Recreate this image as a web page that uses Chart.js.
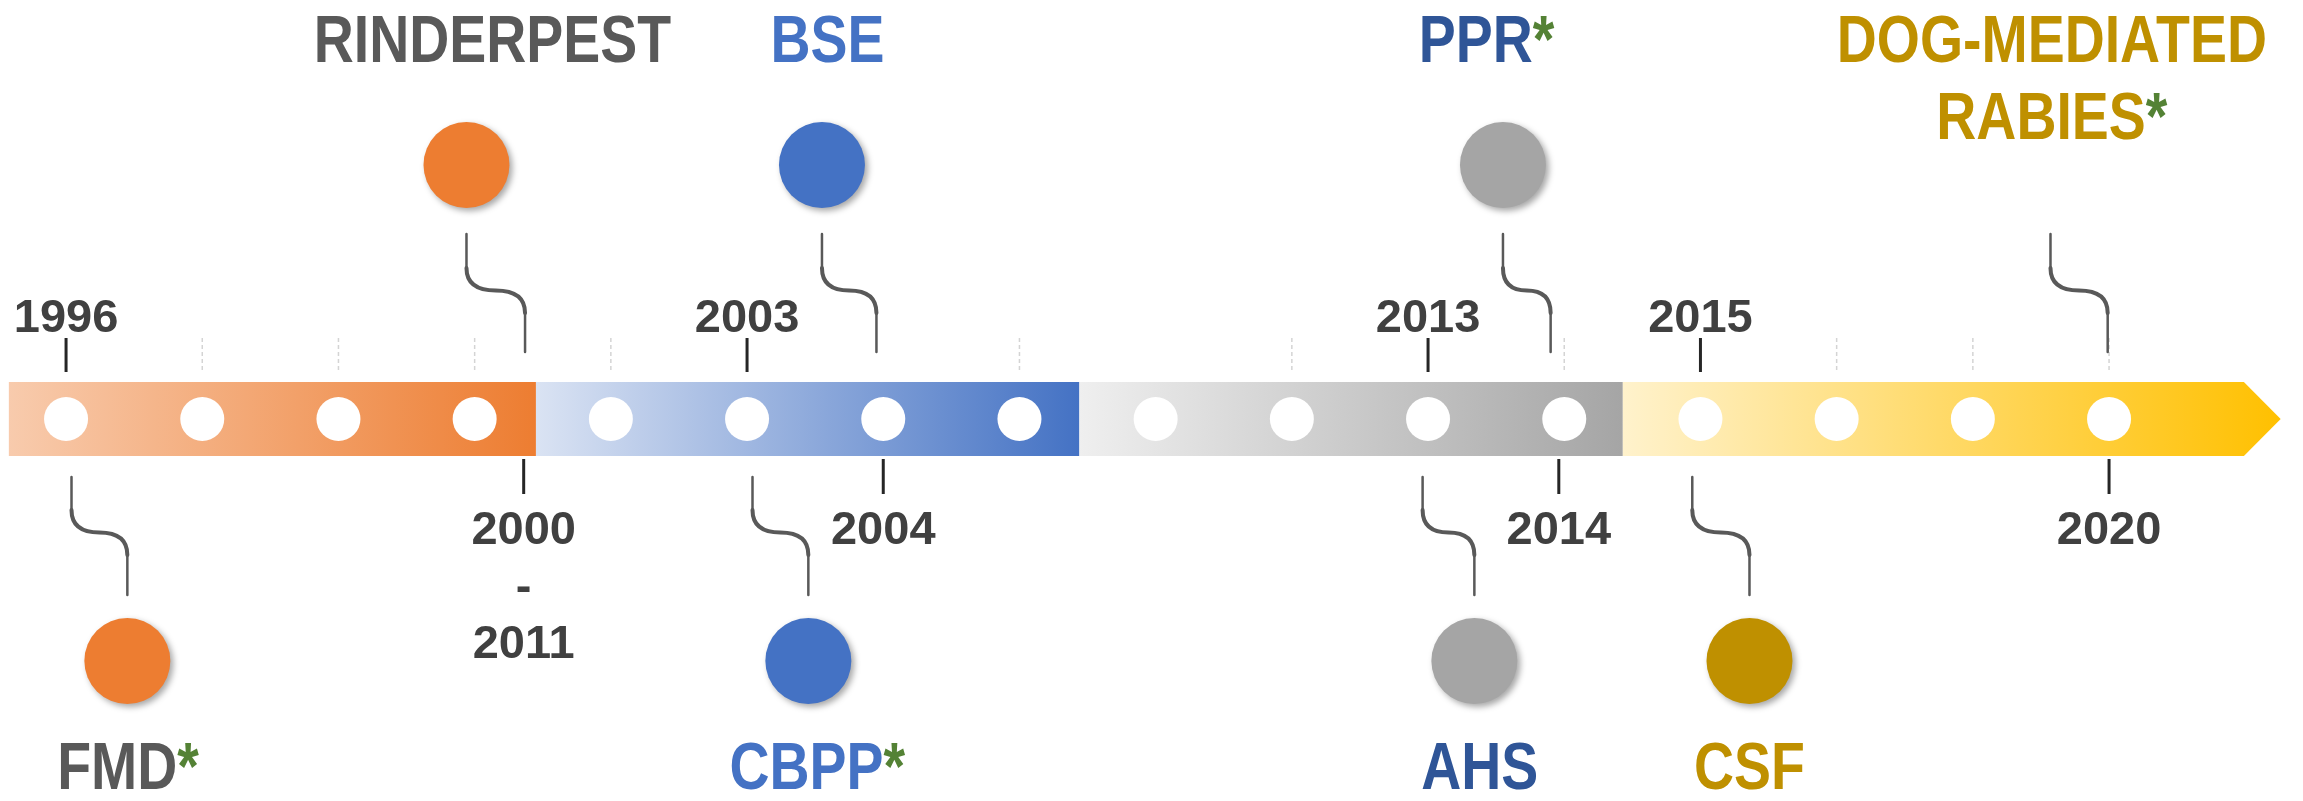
<!DOCTYPE html>
<html>
<head>
<meta charset="utf-8">
<script src="https://cdn.jsdelivr.net/npm/chart.js@4.4.1/dist/chart.umd.min.js"></script>
<style>
  html, body { margin: 0; padding: 0; background: #fff; }
  #wrap { width: 2303px; height: 801px; }
</style>
</head>
<body>
<div id="wrap"><canvas id="timeline" width="2303" height="801"></canvas></div>
<script>
// one white dot per slot on the timeline bar
const slots = [1, 2, 3, 4, 5, 6, 7, 8, 9, 10, 11, 12, 13, 14, 15, 16];

// coloured eras of the bar (slot units), last one ends in the arrow
const eraEdges = [0.58, 4.45, 8.44, 12.43, 16.99];
const arrowTip = 17.26;
const eraColors = [
  ['#F8CBAD', '#ED7D31'],
  ['#DAE3F3', '#4472C4'],
  ['#EFEFEF', '#A5A5A5'],
  ['#FFF2CC', '#FFC000']
];

// year labels
const yearsAbove = ['1996', '2003', '2013', '2015'];
const yearsAboveSlot = [1, 6, 11, 13];
const yearsBelow = ['2000\n-\n2011', '2004', '2014', '2020'];
const yearsBelowSlot = [4.36, 7, 11.96, 16];

// faint minor ticks above the bar
const minorSlots = [2, 3, 4, 5, 8, 10, 12, 14, 15, 16];

// diseases
const diseases = ['RINDERPEST', 'FMD', 'BSE', 'CBPP', 'PPR', 'AHS', 'CSF', 'DOG-MEDIATED\nRABIES'];
const diseaseSide = ['up', 'down', 'up', 'down', 'up', 'down', 'down', 'up'];
const diseaseSlot = [3.94, 1.45, 6.55, 6.45, 11.55, 11.34, 13.36, 15.57];
const diseaseTickSlot = [4.37, 1.04, 6.95, 6.04, 11.9, 10.96, 12.94, 15.99];
const nameSlot = [4.13, 1.455, 6.59, 6.515, 11.43, 11.38, 13.36, 15.58];
const diseaseStar = [false, true, false, true, true, false, false, true];
const diseaseHasCircle = [true, true, true, true, true, true, true, false];
const diseaseColor = ['#ED7D31', '#ED7D31', '#4472C4', '#4472C4', '#A5A5A5', '#A5A5A5', '#BF9000', '#BF9000'];
const labelColor = ['#595959', '#595959', '#4472C4', '#4472C4', '#2F5597', '#2F5597', '#BF9000', '#BF9000'];

// layout, in px above (+) / below (-) the bar centre
const L = {
  barHalf: 37,
  dotR: 22,
  circleR: 43,
  circleUp: 254,
  circleDown: -242,
  connUp: [185, 151, 106, 67],
  connDown: [-58, -91, -136, -176],
  tickUp: [81, 47],
  tickDown: [-40, -75],
  yearUp: 87,
  yearDown: -125,
  yearLine: 57,
  nameUp: 357,
  nameDown: -370,
  nameLine: 77
};

const NAME_FONT = 'bold 66px "Liberation Sans", Arial, sans-serif';
const NAME_SQUEEZE = 0.84;
const YEAR_FONT = 'bold 47px "Liberation Sans", Arial, sans-serif';
const STAR_COLOR = '#548235';

function drawName(ctx, text, star, color, cx, y) {
  ctx.font = NAME_FONT;
  ctx.textAlign = 'left';
  ctx.textBaseline = 'alphabetic';
  const lines = text.split('\n');
  lines.forEach((line, i) => {
    const isLast = i === lines.length - 1;
    const w = ctx.measureText(line).width;
    const ws = (star && isLast) ? ctx.measureText('*').width : 0;
    const yy = y + i * L.nameLine;
    ctx.save();
    ctx.translate(cx, yy);
    ctx.scale(NAME_SQUEEZE, 1);
    const x0 = -(w + ws) / 2;
    ctx.fillStyle = color;
    ctx.fillText(line, x0, 0);
    if (star && isLast) {
      ctx.fillStyle = STAR_COLOR;
      ctx.fillText('*', x0 + w, 0);
    }
    ctx.restore();
  });
}

function drawConnector(ctx, xa, xb, ys) {
  const yMid = (ys[1] + ys[2]) / 2;
  const xMid = (xa + xb) / 2;
  ctx.strokeStyle = '#595959';
  ctx.lineCap = 'round';
  ctx.lineWidth = 2.5;
  ctx.beginPath();
  ctx.moveTo(xa, ys[0]);
  ctx.lineTo(xa, ys[1]);
  ctx.moveTo(xb, ys[2]);
  ctx.lineTo(xb, ys[3]);
  ctx.stroke();
  ctx.lineWidth = 4;
  ctx.beginPath();
  ctx.moveTo(xa, ys[1]);
  ctx.quadraticCurveTo(xa, yMid, xMid, yMid);
  ctx.quadraticCurveTo(xb, yMid, xb, ys[2]);
  ctx.stroke();
}

const timelinePlugin = {
  id: 'timelineDecor',
  beforeDatasetsDraw(chart) {
    const ctx = chart.ctx;
    const xs = chart.scales.x, ys = chart.scales.y;
    const px = v => xs.getPixelForValue(v);
    const py = v => ys.getPixelForValue(v);
    const top = py(L.barHalf), bot = py(-L.barHalf), mid = py(0);

    ctx.save();
    // bar eras
    for (let i = 0; i < eraColors.length; i++) {
      const x0 = px(eraEdges[i]);
      const x1 = px(eraEdges[i + 1]);
      const last = i === eraColors.length - 1;
      const g = ctx.createLinearGradient(x0, 0, last ? px(arrowTip) : x1, 0);
      g.addColorStop(0, eraColors[i][0]);
      g.addColorStop(1, eraColors[i][1]);
      ctx.fillStyle = g;
      ctx.beginPath();
      ctx.moveTo(x0, top);
      ctx.lineTo(x1, top);
      if (last) ctx.lineTo(px(arrowTip), mid);
      ctx.lineTo(x1, bot);
      ctx.lineTo(x0, bot);
      ctx.closePath();
      ctx.fill();
    }

    // faint dashed ticks
    ctx.strokeStyle = '#D4D4D4';
    ctx.lineWidth = 1.5;
    ctx.setLineDash([4, 3]);
    minorSlots.forEach(s => {
      ctx.beginPath();
      ctx.moveTo(px(s), py(L.tickUp[0]));
      ctx.lineTo(px(s), py(L.tickUp[1]));
      ctx.stroke();
    });
    ctx.setLineDash([]);

    // year ticks
    ctx.strokeStyle = '#262626';
    ctx.lineWidth = 3;
    yearsAboveSlot.forEach(s => {
      ctx.beginPath();
      ctx.moveTo(px(s), py(L.tickUp[0]));
      ctx.lineTo(px(s), py(L.tickUp[1]));
      ctx.stroke();
    });
    yearsBelowSlot.forEach(s => {
      ctx.beginPath();
      ctx.moveTo(px(s), py(L.tickDown[0]));
      ctx.lineTo(px(s), py(L.tickDown[1]));
      ctx.stroke();
    });

    // connectors
    diseases.forEach((d, i) => {
      if (diseaseSide[i] === 'up') {
        drawConnector(ctx, px(diseaseSlot[i]), px(diseaseTickSlot[i]), L.connUp.map(py));
      } else {
        drawConnector(ctx, px(diseaseTickSlot[i]), px(diseaseSlot[i]), L.connDown.map(py));
      }
    });
    ctx.restore();
  },
  beforeDatasetDraw(chart, args) {
    if (args.index === 1) {
      const ctx = chart.ctx;
      ctx.save();
      ctx.shadowColor = 'rgba(0,0,0,0.35)';
      ctx.shadowBlur = 6;
      ctx.shadowOffsetX = 3;
      ctx.shadowOffsetY = 3;
    }
  },
  afterDatasetDraw(chart, args) {
    if (args.index === 1) chart.ctx.restore();
  },
  afterDatasetsDraw(chart) {
    const ctx = chart.ctx;
    const xs = chart.scales.x, ys = chart.scales.y;
    const px = v => xs.getPixelForValue(v);
    const py = v => ys.getPixelForValue(v);
    ctx.save();

    // years
    ctx.font = YEAR_FONT;
    ctx.fillStyle = '#404040';
    ctx.textAlign = 'center';
    ctx.textBaseline = 'alphabetic';
    yearsAbove.forEach((t, i) => ctx.fillText(t, px(yearsAboveSlot[i]), py(L.yearUp)));
    yearsBelow.forEach((t, i) => {
      t.split('\n').forEach((line, j) => {
        ctx.fillText(line, px(yearsBelowSlot[i]), py(L.yearDown) + j * L.yearLine);
      });
    });

    // disease names
    diseases.forEach((d, i) => {
      const y = diseaseSide[i] === 'up' ? py(L.nameUp) : py(L.nameDown);
      drawName(ctx, d, diseaseStar[i], labelColor[i], px(nameSlot[i]), y);
    });
    ctx.restore();
  }
};

const circleIdx = diseases.map((d, i) => i).filter(i => diseaseHasCircle[i]);

new Chart(document.getElementById('timeline'), {
  type: 'scatter',
  data: {
    datasets: [
      {
        label: 'slots',
        data: slots.map(s => ({ x: s, y: 0 })),
        pointRadius: L.dotR,
        pointBackgroundColor: '#FFFFFF',
        pointBorderWidth: 0
      },
      {
        label: 'diseases',
        data: circleIdx.map(i => ({ x: diseaseSlot[i], y: diseaseSide[i] === 'up' ? L.circleUp : L.circleDown })),
        pointRadius: L.circleR,
        pointBackgroundColor: circleIdx.map(i => diseaseColor[i]),
        pointBorderWidth: 0
      }
    ]
  },
  options: {
    responsive: false,
    animation: false,
    events: [],
    layout: { padding: 0, autoPadding: false },
    plugins: { legend: { display: false }, tooltip: { enabled: false } },
    scales: {
      x: { type: 'linear', display: false, min: 0.515, max: 17.424 },
      y: { type: 'linear', display: false, min: -382, max: 419 }
    }
  },
  plugins: [timelinePlugin]
});
</script>
</body>
</html>
